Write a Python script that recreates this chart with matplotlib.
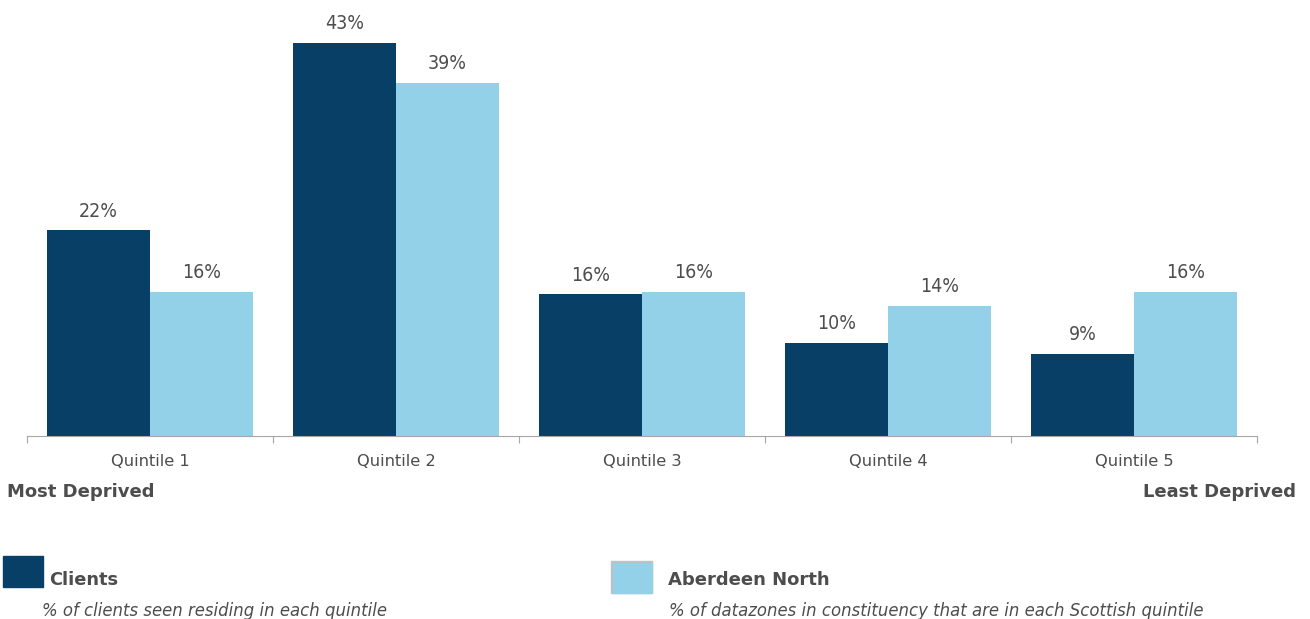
import matplotlib
matplotlib.use("Agg")
import matplotlib.pyplot as plt
from matplotlib.patches import Rectangle
import numpy as np

categories = ["Quintile 1", "Quintile 2", "Quintile 3", "Quintile 4", "Quintile 5"]
clients = [22.5, 43.0, 15.5, 10.2, 9.0]
aberdeen = [15.8, 38.6, 15.8, 14.2, 15.8]
series_names = ["Clients", "Aberdeen North"]
series_desc = ["% of clients seen residing in each quintile",
               "% of datazones in constituency that are in each Scottish quintile"]

DARK = "#073F66"
LIGHT = "#92D1E8"
TXT = "#4D4D4D"
FONT = ["DejaVu Sans"]
plt.rcParams["font.family"] = FONT

W, H = 1310, 619
fig = plt.figure(figsize=(W / 100, H / 100), dpi=100)
ax = fig.add_axes([27 / W, 1 - 436 / H, (1257 - 27) / W, 436 / H])

x = np.arange(len(categories))
bw = 0.417
b1 = ax.bar(x - bw / 2, clients, width=bw, color=DARK)
b2 = ax.bar(x + bw / 2, aberdeen, width=bw, color=LIGHT)

for bars, vals in ((b1, clients), (b2, aberdeen)):
    for r, v in zip(bars, vals):
        ax.annotate(f"{round(v):.0f}%", (r.get_x() + r.get_width() / 2, v),
                    xytext=(0, 7), textcoords="offset points",
                    ha="center", va="bottom", fontsize=14, color=TXT,
                    fontstretch="condensed")

ax.set_xlim(-0.5, len(categories) - 0.5)
ax.set_ylim(0, 43 * 436 / 393)
for s in ("top", "right", "left"):
    ax.spines[s].set_visible(False)
ax.spines["bottom"].set_color("#A6A6A6")
ax.set_yticks([])
ax.set_xticks(np.arange(len(categories) + 1) - 0.5, minor=False)
ax.set_xticklabels([])
ax.tick_params(axis="x", which="major", length=5, color="#A6A6A6")
ax.set_xticks(x, minor=True)
ax.set_xticklabels(categories, minor=True)
ax.tick_params(axis="x", which="minor", length=0, pad=13, labelsize=11.7, labelcolor=TXT)

fig.text(7 / W, 1 - 492 / H, "Most Deprived", ha="left", va="center",
         fontsize=13, fontweight="bold", color=TXT)
fig.text(1296 / W, 1 - 492 / H, "Least Deprived", ha="right", va="center",
         fontsize=13, fontweight="bold", color=TXT)

# legend
fig.patches.append(Rectangle((3 / W, 1 - 587 / H), 40 / W, 31 / H,
                             transform=fig.transFigure, color=DARK))
fig.patches.append(Rectangle((611 / W, 1 - 593 / H), 41 / W, 32 / H,
                             transform=fig.transFigure, color="#C0C0C0"))
fig.patches.append(Rectangle((613 / W, 1 - 593 / H), 39 / W, 30 / H,
                             transform=fig.transFigure, color=LIGHT))
fig.text(49 / W, 1 - 580 / H, series_names[0], ha="left", va="center",
         fontsize=12.8, fontweight="bold", color=TXT)
fig.text(668 / W, 1 - 580 / H, series_names[1], ha="left", va="center",
         fontsize=13, fontweight="bold", color=TXT)
fig.text(42 / W, 1 - 611 / H, series_desc[0], ha="left", va="center",
         fontsize=11.9, fontstyle="italic", color=TXT)
fig.text(669 / W, 1 - 611 / H, series_desc[1], ha="left", va="center",
         fontsize=11.9, fontstyle="italic", color=TXT)

fig.savefig("out.png", dpi=100)
